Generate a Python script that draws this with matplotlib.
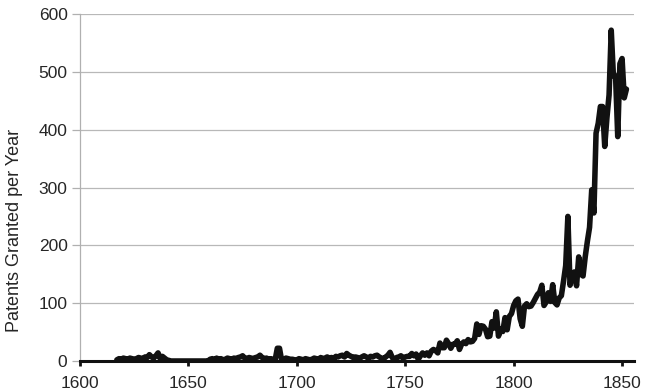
import matplotlib
matplotlib.use("Agg")
import matplotlib.pyplot as plt

start_year = 1617
patents = (
    [2, 4, 3]
    + [5, 4, 3, 5, 4, 3, 4, 6, 5, 4]
    + [7, 6, 11, 7, 5, 9, 14, 4, 8, 5]
    + [2, 1, 0, 0, 0, 0, 0, 0, 0, 0]
    + [0, 0, 0, 0, 0, 0, 0, 0, 0, 0]
    + [3, 4, 2, 5, 3, 4, 2, 3, 5, 4]
    + [3, 5, 4, 6, 7, 9, 5, 4, 6, 5]
    + [4, 6, 7, 10, 6, 4, 5, 3, 4, 3]
    + [2, 22, 22, 1, 3, 5, 4, 3, 3, 2]
    + [2, 4, 3, 2, 4, 3, 2, 3, 5, 4]
    + [3, 6, 4, 5, 7, 5, 6, 4, 8, 7]
    + [9, 10, 7, 13, 10, 8, 6, 7, 6, 5]
    + [7, 9, 7, 5, 8, 7, 9, 10, 7, 5]
    + [4, 7, 10, 15, 6, 2, 6, 7, 9, 5]
    + [7, 8, 8, 13, 9, 12, 3, 9, 14, 10]
    + [14, 9, 17, 20, 18, 14, 31, 23, 23, 36]
    + [30, 22, 29, 29, 35, 20, 29, 33, 30, 37]
    + [33, 34, 39, 64, 46, 61, 60, 55, 42, 43]
    + [68, 57, 85, 43, 55, 51, 75, 54, 77, 82]
    + [96, 104, 107, 73, 60, 95, 99, 94, 95, 101]
    + [108, 115, 119, 131, 96, 102, 118, 103, 132, 101]
    + [97, 109, 113, 138, 165, 250, 131, 150, 154, 130]
    + [180, 150, 147, 180, 207, 231, 296, 256, 394, 411]
    + [440, 440, 371, 420, 460, 572, 493, 493, 388, 514]
    + [523, 455, 470]
)
years = list(range(start_year, start_year + len(patents)))

x_ticks = [1600, 1650, 1700, 1750, 1800, 1850]
y_ticks = [0, 100, 200, 300, 400, 500, 600]
y_label = "Patents Granted per Year"

plt.rcParams['font.family'] = ['Liberation Sans', 'DejaVu Sans']

fig = plt.figure(figsize=(6.46, 3.92), dpi=100)
ax = fig.add_axes([80 / 646, 31 / 392, 554 / 646, 347 / 392])

ax.plot(years, patents, color='#111111', lw=4.0, solid_joinstyle='round',
        solid_capstyle='round', zorder=3)

ax.set_xlim(1600, 1855.5)
ax.set_ylim(0, 600)
ax.set_xticks(x_ticks)
ax.set_yticks(y_ticks)
ax.yaxis.grid(True, color='#b8b8b8', lw=0.9)
ax.set_axisbelow(True)

for s in ['top', 'right']:
    ax.spines[s].set_visible(False)
ax.spines['left'].set_color('#b0b0b0')
ax.spines['left'].set_linewidth(0.9)
ax.spines['bottom'].set_color('#111111')
ax.spines['bottom'].set_linewidth(2.2)
ax.spines['bottom'].set_zorder(4)

ax.tick_params(axis='y', length=6, width=0.9, color='#b0b0b0', pad=3,
               labelsize=12.5, labelcolor='#262626')
ax.tick_params(axis='x', length=3.5, width=2, color='#111111', pad=7,
               labelsize=12.5, labelcolor='#262626')
ax.set_ylabel(y_label, fontsize=13, color='#262626')
ax.yaxis.set_label_coords(-0.103, 0.375)

fig.savefig('out.png', dpi=100)
